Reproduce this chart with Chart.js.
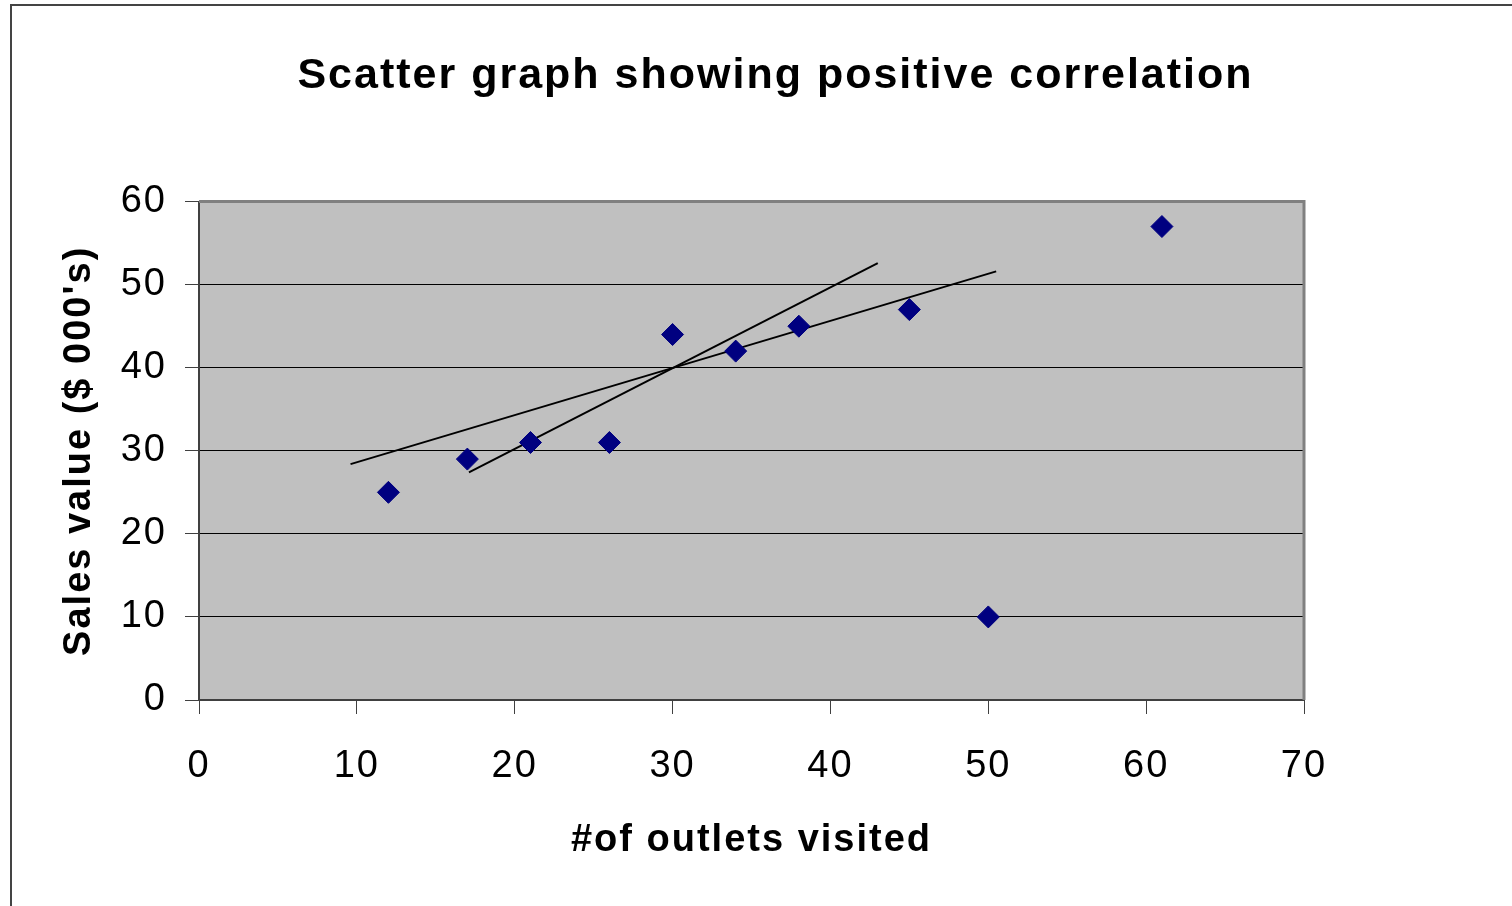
<!DOCTYPE html>
<html>
<head>
<meta charset="utf-8">
<script src="https://cdn.jsdelivr.net/npm/chart.js@4.4.1/dist/chart.umd.min.js"></script>
<style>
  html, body { margin: 0; padding: 0; background: #fff; overflow: hidden; }
  #frame { position: absolute; left: 10px; top: 4px; width: 1600px; height: 1000px;
           border-left: 2px solid #444; border-top: 2px solid #444; }
  #wrap { position: absolute; left: 0; top: 0; width: 1512px; height: 906px; }
</style>
</head>
<body>
<div id="frame"></div>
<div id="wrap"><canvas id="scatterChart" width="1512" height="906"></canvas></div>
<script>
// outlets visited vs sales value
const outlets = [12, 17, 21, 26, 30, 34, 38, 45, 50, 61];
const sales = [25, 29, 31, 31, 44, 42, 45, 47, 10, 57];

// hand drawn trend lines (end points)
const lineA_x = [9.6, 50.5];
const lineA_y = [28.4, 51.6];
const lineB_x = [17.1, 43.0];
const lineB_y = [27.4, 52.6];

const xTicks = [0, 10, 20, 30, 40, 50, 60, 70];
const yTicks = [0, 10, 20, 30, 40, 50, 60];

const toPts = (xs, ys) => xs.map((x, i) => ({ x: x, y: ys[i] }));

// grey plot area + border like the excel chart
const plotArea = {
    id: 'plotArea',
    beforeDraw(chart) {
        const { ctx, chartArea: a } = chart;
        ctx.letterSpacing = '2px'; // old excel text looks a bit spaced out
        ctx.save();
        ctx.fillStyle = '#c0c0c0';
        ctx.fillRect(a.left, a.top, a.right - a.left, a.bottom - a.top);
        ctx.restore();
    },
    afterDraw(chart) {
        const { ctx, chartArea: a } = chart;
        ctx.save();
        ctx.strokeStyle = '#808080';
        ctx.lineWidth = 3;
        ctx.beginPath();
        ctx.moveTo(a.left, a.top);
        ctx.lineTo(a.right, a.top);
        ctx.lineTo(a.right, a.bottom);
        ctx.stroke();
        ctx.restore();
    }
};

const font = 'Liberation Sans, Arial, sans-serif';

new Chart(document.getElementById('scatterChart').getContext('2d'), {
    type: 'scatter',
    data: {
        datasets: [{
            label: 'Sales',
            data: toPts(outlets, sales),
            pointStyle: 'rectRot',
            pointRadius: 11,
            pointHoverRadius: 11,
            backgroundColor: '#000080',
            borderColor: '#000080',
            borderWidth: 1
        }, {
            label: 'Line A',
            type: 'line',
            data: toPts(lineA_x, lineA_y),
            borderColor: '#000',
            borderWidth: 2,
            pointRadius: 0,
            fill: false
        }, {
            label: 'Line B',
            type: 'line',
            data: toPts(lineB_x, lineB_y),
            borderColor: '#000',
            borderWidth: 2,
            pointRadius: 0,
            fill: false
        }]
    },
    options: {
        responsive: false,
        animation: false,
        layout: { padding: { left: 39, right: 0, top: 0, bottom: 0 } },
        plugins: {
            legend: { display: false },
            tooltip: { enabled: false },
            title: {
                display: true,
                text: 'Scatter graph showing positive correlation',
                color: '#000',
                font: { family: font, size: 43, weight: 'bold', lineHeight: 1.2 },
                padding: { top: 50, bottom: 100 }
            }
        },
        scales: {
            x: {
                type: 'linear',
                min: 0, max: 70,
                afterBuildTicks: s => { s.ticks = xTicks.map(v => ({ value: v })); },
                afterFit: s => { s.height = 206; },
                ticks: { color: '#000', font: { family: font, size: 38 }, padding: 30 },
                grid: { display: true, drawOnChartArea: false, tickLength: 14, color: '#404040', lineWidth: 1 },
                border: { display: true, color: '#404040', width: 2 },
                title: {
                    display: true,
                    text: '#of outlets visited',
                    color: '#000',
                    font: { family: font, size: 38, weight: 'bold', lineHeight: 1.2 },
                    padding: { top: 0, bottom: 43 }
                }
            },
            y: {
                type: 'linear',
                position: 'left',
                min: 0, max: 60,
                afterBuildTicks: s => { s.ticks = yTicks.map(v => ({ value: v })); },
                afterFit: s => { s.width = 160; },
                ticks: { color: '#000', font: { family: font, size: 38 }, padding: 18 },
                grid: {
                    color: ctx => (ctx.tick && ctx.tick.value > 0 && ctx.tick.value < 60) ? '#000' : 'rgba(0,0,0,0)',
                    tickColor: '#404040',
                    tickLength: 14,
                    lineWidth: 1
                },
                border: { display: true, color: '#404040', width: 2 },
                title: {
                    display: true,
                    text: "Sales value ($ 000's)",
                    color: '#000',
                    font: { family: font, size: 38, weight: 'bold', lineHeight: 1.2 },
                    padding: { top: 18, bottom: 0 }
                }
            },
            y2: {
                type: 'linear',
                position: 'right',
                afterFit: s => { s.width = 208; },
                ticks: { display: false },
                grid: { display: false },
                border: { display: false }
            }
        }
    },
    plugins: [plotArea]
});
</script>
</body>
</html>
